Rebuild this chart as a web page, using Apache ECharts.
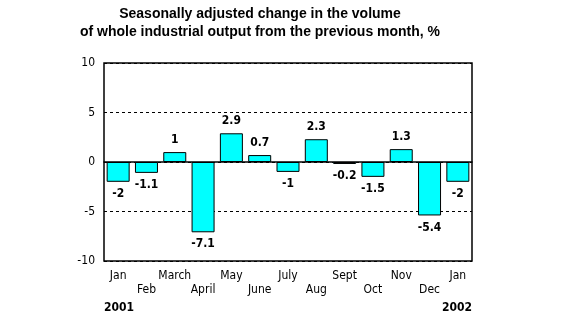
<!DOCTYPE html>
<html><head><meta charset="utf-8">
<script src="https://cdn.jsdelivr.net/npm/echarts@6/dist/echarts.min.js"></script>
<style>html,body{margin:0;padding:0;background:#fff}#c{width:564px;height:316px}</style>
</head><body><div id="c"></div>
<script>
const titleLines = ['Seasonally adjusted change in the volume', 'of whole industrial output from the previous month, %'];
const categories = ['Jan','Feb','March','April','May','June','July','Aug','Sept','Oct','Nov','Dec','Jan'];
const values = [-2, -1.1, 1, -7.1, 2.9, 0.7, -1, 2.3, -0.2, -1.5, 1.3, -5.4, -2];
const years = ['2001', '2002'];
const yTicks = {min: -10, max: 10, interval: 5};

const narrow = '"DejaVu Sans Condensed", "Liberation Sans", Arial, sans-serif';
const chart = echarts.init(document.getElementById('c'), null, {renderer: 'canvas'});
chart.setOption({
  animation: false,
  backgroundColor: '#fff',
  grid: {left: 104, right: 92, top: 63, bottom: 55, show: true, borderColor: '#000', borderWidth: 1.5, backgroundColor: 'transparent'},
  xAxis: {
    type: 'category', data: categories,
    axisLine: {show: true, onZero: true, lineStyle: {color: '#000', width: 1.5}},
    axisTick: {show: false},
    axisLabel: {
      interval: 0, color: '#000', fontFamily: narrow, fontSize: 12, lineHeight: 14,
      margin: 8,
      formatter: (v, i) => i % 2 ? '\n' + v : v
    },
    position: 'bottom'
  },
  yAxis: {
    type: 'value', min: yTicks.min, max: yTicks.max, interval: yTicks.interval,
    axisLine: {show: false}, axisTick: {show: false},
    axisLabel: {color: '#000', fontFamily: narrow, fontSize: 12, margin: 9},
    splitLine: {show: true, lineStyle: {color: '#000', type: [3, 3], width: 1}}
  },
  graphic: [
    {type: 'text', x: 260, y: 5, style: {text: titleLines.join('\n'), font: 'bold 14px "Liberation Sans", Arial, sans-serif', lineHeight: 18, fill: '#000', textAlign: 'center'}},
    {type: 'text', left: 104, top: 302, style: {text: years[0], font: 'bold 12px ' + narrow, fill: '#000'}},
    {type: 'text', right: 92, top: 302, style: {text: years[1], font: 'bold 12px ' + narrow, fill: '#000', textAlign: 'right'}}
  ],
  series: [{
    type: 'bar', barWidth: 23,
    data: values.map(v => ({
      value: v,
      label: {position: v < 0 ? 'bottom' : 'top'}
    })),
    itemStyle: {color: '#00FFFF', borderColor: '#000', borderWidth: 1},
    label: {show: true, distance: 6, color: '#000', fontFamily: narrow, fontWeight: 'bold', fontSize: 12}
  }]
});
</script></body></html>
